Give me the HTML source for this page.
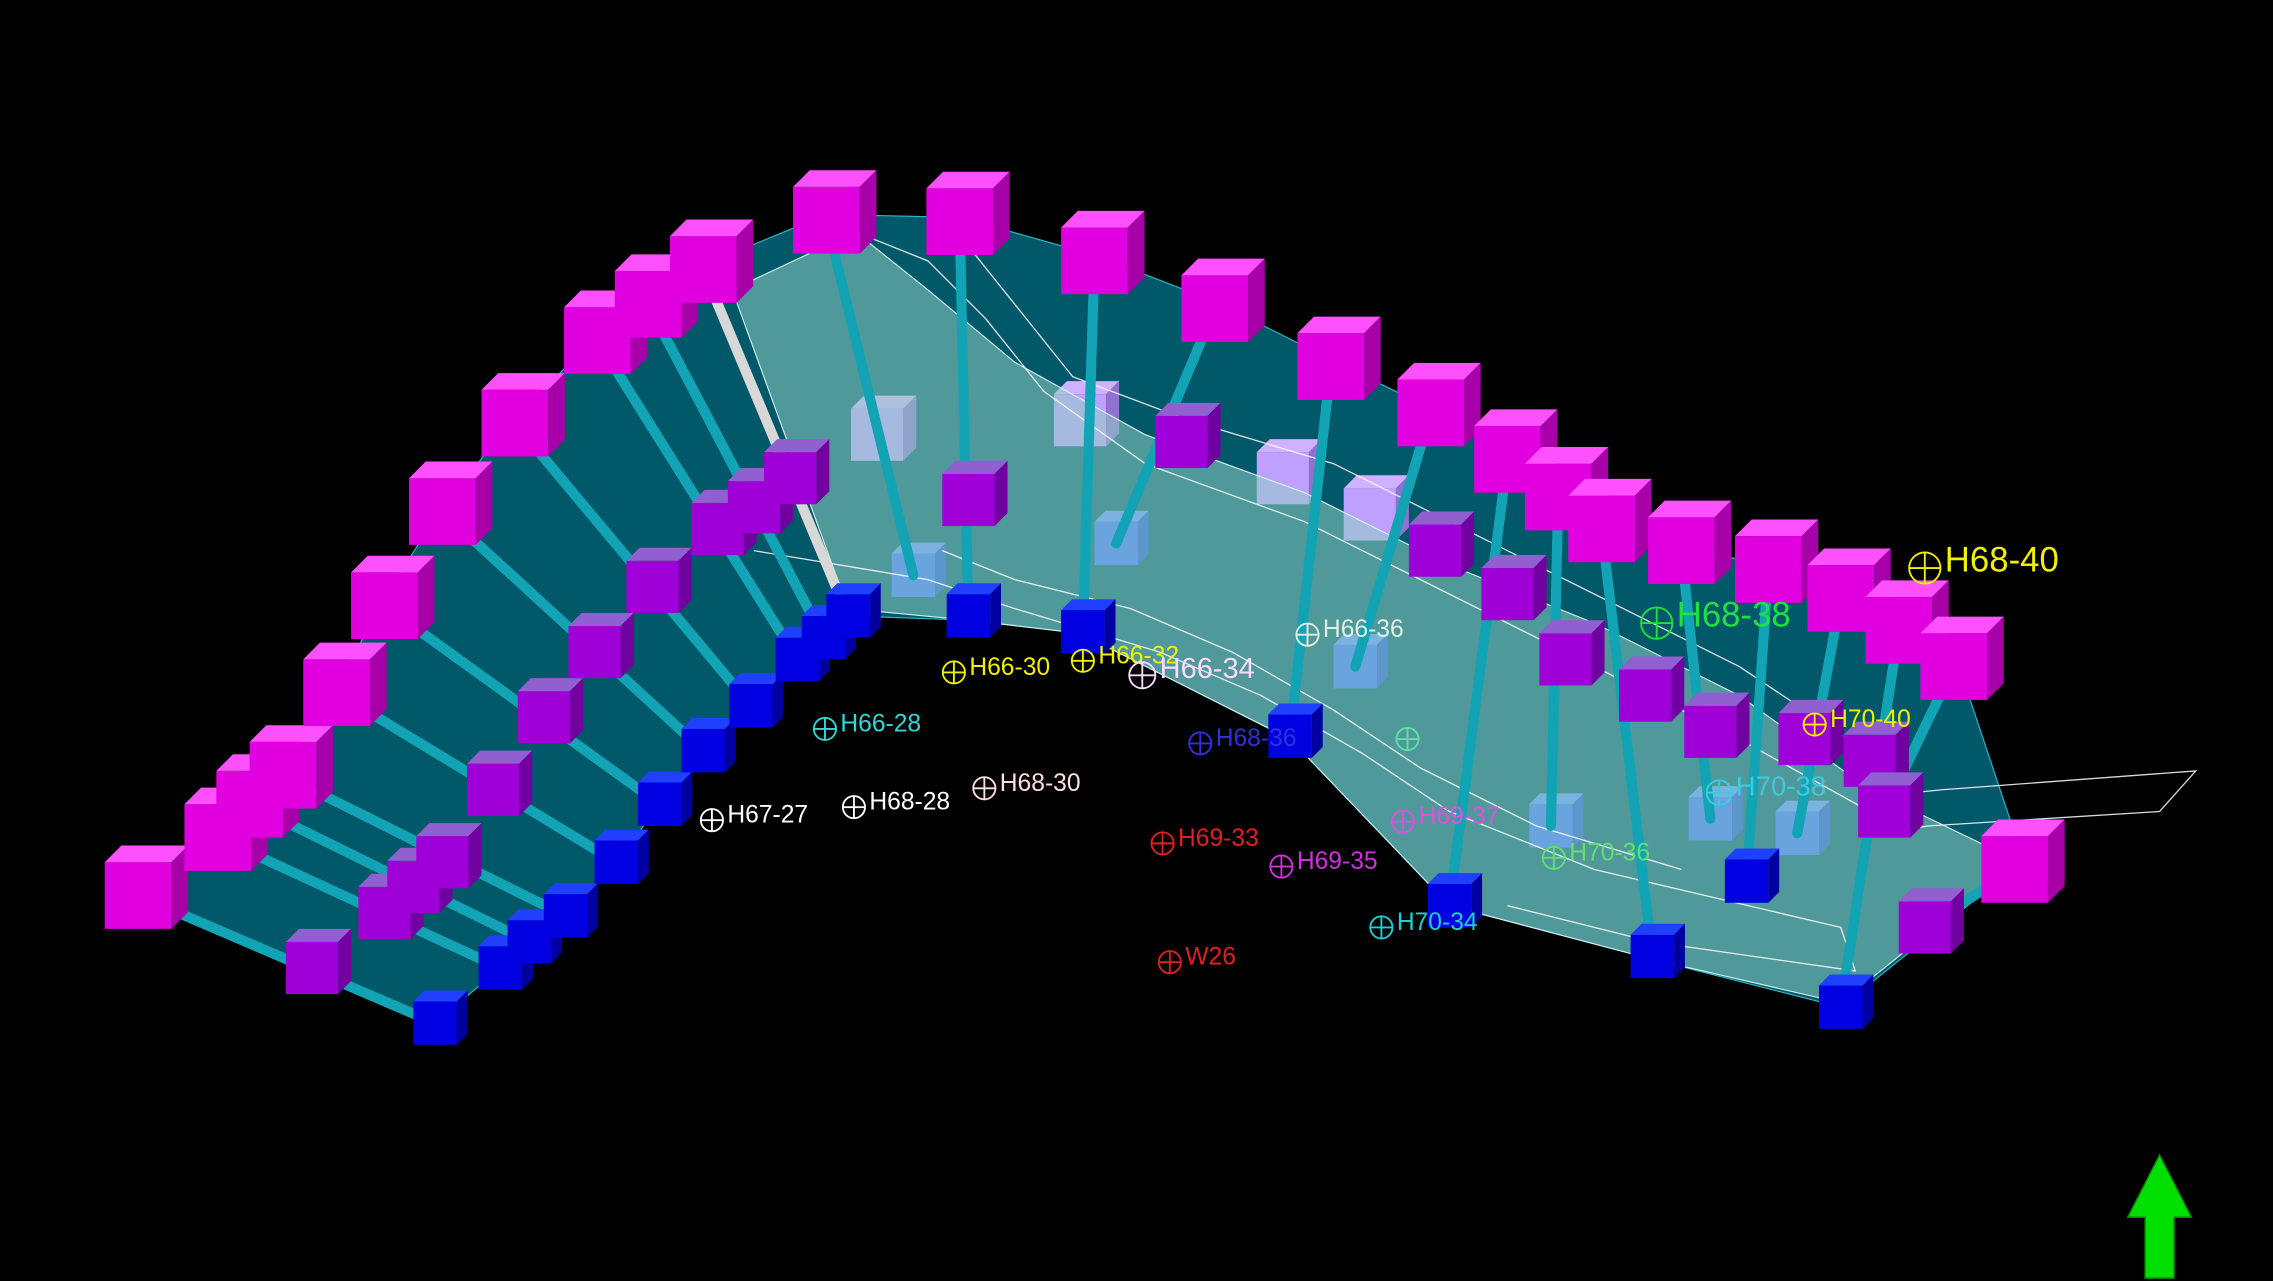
<!DOCTYPE html>
<html><head><meta charset="utf-8"><style>
html,body{margin:0;padding:0;background:#000;overflow:hidden}
svg{display:block}
text{font-family:"Liberation Sans",sans-serif}
</style></head><body>
<svg id="scene" width="2273" height="1281" viewBox="0 0 1568 884" xmlns="http://www.w3.org/2000/svg">
<rect width="1568" height="884" fill="#000"/>
<polygon fill="#015869" stroke="#2ab8c8" stroke-width="0.8"
 points="95,615 150,575 195,532 232,475 265,412 305,350 355,288 412,232 447,207 485,183 570,148 662,150 755,176 838,208 918,248 987,282 1040,312 1100,345 1160,378 1220,390 1270,408 1310,430 1350,455 1395,590 1370,615 1270,695 1140,662 1000,625 890,510 745,437 668,428 585,425 550,455 518,487 485,518 455,555 425,595 390,632 345,668 300,706"/>
<g id="behind"></g>
<polygon fill="#8fd0c4" fill-opacity="0.55" stroke="#d0f0f0" stroke-width="0.8"
 points="505,200 590,160 640,200 700,250 790,300 900,340 1000,390 1100,430 1200,480 1290,545 1400,598 1370,612 1270,692 1140,662 1000,625 890,510 745,437 668,428 585,420"/>
<g id="contours" fill="none" stroke="#fff" stroke-width="0.9" opacity="0.85">
<polyline points="590,160 640,180 680,220 720,270 790,320 900,360 1000,410 1100,460 1200,510 1290,560"/>
<polyline points="520,380 640,400 700,420 800,450 870,480 940,520 1000,560 1100,600 1270,640 1280,670 1140,650 1040,625"/>
<polyline points="650,380 700,400 780,420 850,450 920,490 980,530 1060,570 1160,600"/>
<polyline points="1290,550 1340,545 1515,532 1490,560 1330,570 1300,575"/>
<polyline points="660,160 700,210 740,260 820,290 920,320 1000,360 1100,410 1200,460 1290,520"/>
</g>
<g id="pillars"></g>
<g id="wells"></g>
<polygon fill="#00e000" stroke="#008800" points="1490,797 1512,840 1500,840 1500,882 1480,882 1480,840 1468,840"/>
</svg>
<script>
const NS="http://www.w3.org/2000/svg";
const tops=[[95,618],[150,578],[172,555],[195,535],[232,478],[265,418],[305,353],[355,292],[412,235],[447,210],[485,186],[570,152],[662,153],[755,180],[838,213],[918,253],[987,285],[1040,317],[1075,343],[1105,365],[1160,380],[1220,393],[1270,413],[1310,435],[1348,460],[1390,600]];
const mids=[[215,668],[265,630],[285,612],[305,595],[340,545],[375,495],[410,450],[450,405],[495,365],[520,350],[545,330],[605,300],[668,345],[745,290],[815,305],[885,330],[945,355],[990,380],[1040,410],[1080,455],[1135,480],[1180,505],[1245,510],[1290,525],[1300,560],[1328,640]];
const bots=[[300,706],[345,668],[365,650],[390,632],[425,595],[455,555],[485,518],[518,487],[550,455],[568,440],[585,425],[630,397],[668,425],[747,436],[770,375],[890,508],[935,460],[1000,625],[1070,570],[1140,660],[1180,565],[1205,608],[1240,575],[1270,695],[1300,560],[1328,640]];
const midBehind=[11,13,15,16];
const botBehind=[11,14,16,18,20,22];
const pg=document.getElementById('pillars');
const bg=document.getElementById('behind');
function cube(par,x,y,s,front,top,side,name,op){
  const g=document.createElementNS(NS,'g');
  
  
  if(op)g.setAttribute('opacity',op);
  const d=s*0.25;
  const f=document.createElementNS(NS,'rect');
  f.setAttribute('x',x-s/2);f.setAttribute('y',y-s/2);f.setAttribute('width',s);f.setAttribute('height',s);f.setAttribute('fill',front);
  const t=document.createElementNS(NS,'polygon');
  t.setAttribute('points',`${x-s/2},${y-s/2} ${x-s/2+d},${y-s/2-d} ${x+s/2+d},${y-s/2-d} ${x+s/2},${y-s/2}`);t.setAttribute('fill',top);
  const sd=document.createElementNS(NS,'polygon');
  sd.setAttribute('points',`${x+s/2},${y-s/2} ${x+s/2+d},${y-s/2-d} ${x+s/2+d},${y+s/2-d} ${x+s/2},${y+s/2}`);sd.setAttribute('fill',side);
  g.appendChild(f);g.appendChild(t);g.appendChild(sd);par.appendChild(g);
}
tops.forEach((t,i)=>{
  const b=bots[i];
  const l=document.createElementNS(NS,'line');
  
  
  l.setAttribute('x1',t[0]);l.setAttribute('y1',t[1]);l.setAttribute('x2',b[0]);l.setAttribute('y2',b[1]);
  l.setAttribute('stroke',i==10?'#d8d8d8':'#12a4b4');l.setAttribute('stroke-width',7);l.setAttribute('stroke-linecap','round');
  pg.appendChild(l);
});
bots.forEach((b,i)=>{
  if(botBehind.includes(i)) cube(bg,b[0],b[1],30,'#3a70ff','#6090ff','#2050d0','bottom-cube');
  else cube(pg,b[0],b[1],30,'#0000e0','#2040ff','#0000a0','bottom-cube');
});
mids.forEach((m,i)=>{
  if(midBehind.includes(i)) cube(bg,m[0],m[1],36,'#c0a0ff','#d0b0ff','#9070d0','middle-cube');
  else cube(pg,m[0],m[1],36,'#a000d8','#9060d0','#7000a0','middle-cube');
});
tops.forEach(t=>cube(pg,t[0],t[1],46,'#e000e0','#ff50ff','#a800a8','top-cube'));
const wellNames=["H66-30","H66-32","H66-34","H66-28","H67-27","H68-28","H68-30","H69-33","H69-35","H69-37","H70-34","W26","H68-40","H68-38","H70-38","H70-36","H68-36","H66-36","H70-40","H69-37b"];
const wellX=[658,747,788,569,491,589,679,802,884,968,953,807,1328,1143,1186,1072,828,902,1252,971];
const wellY=[464,456,466,503,566,557,544,582,598,567,640,664,392,430,547,592,513,438,500,510];
const wellColor=["#f0f000","#f0f000","#ffd8ff","#30d8d8","#fff","#fff","#ffe0e0","#e02020","#d030e0","#e050e0","#20d0d0","#e02020","#f0f000","#20e040","#40c8e0","#60e070","#3030e0","#e0f0e0","#f0f000","#60e0a0"];
const wellSize=[17,17,20,17,17,17,17,17,17,17,17,17,24,24,19,17,17,17,17,17];
const wg=document.getElementById('wells');
wellNames.forEach((n,i)=>{
  const g=document.createElementNS(NS,'g');
  
  
  const r=wellSize[i]*0.45,x=wellX[i],y=wellY[i],c=wellColor[i];
  g.innerHTML=`<circle cx="${x}" cy="${y}" r="${r}" fill="none" stroke="${c}" stroke-width="1.3"/><line x1="${x-r}" y1="${y}" x2="${x+r}" y2="${y}" stroke="${c}" stroke-width="1.3"/><line x1="${x}" y1="${y-r}" x2="${x}" y2="${y+r}" stroke="${c}" stroke-width="1.3"/>`;
  if(!n.endsWith('b')){
    const t=document.createElementNS(NS,'text');
    t.setAttribute('x',x+r+3);t.setAttribute('y',y+wellSize[i]*0.1);
    t.setAttribute('fill',c);t.setAttribute('font-size',wellSize[i]);
    t.textContent=n;g.appendChild(t);
  }
  wg.appendChild(g);
});
</script>
</body></html>
